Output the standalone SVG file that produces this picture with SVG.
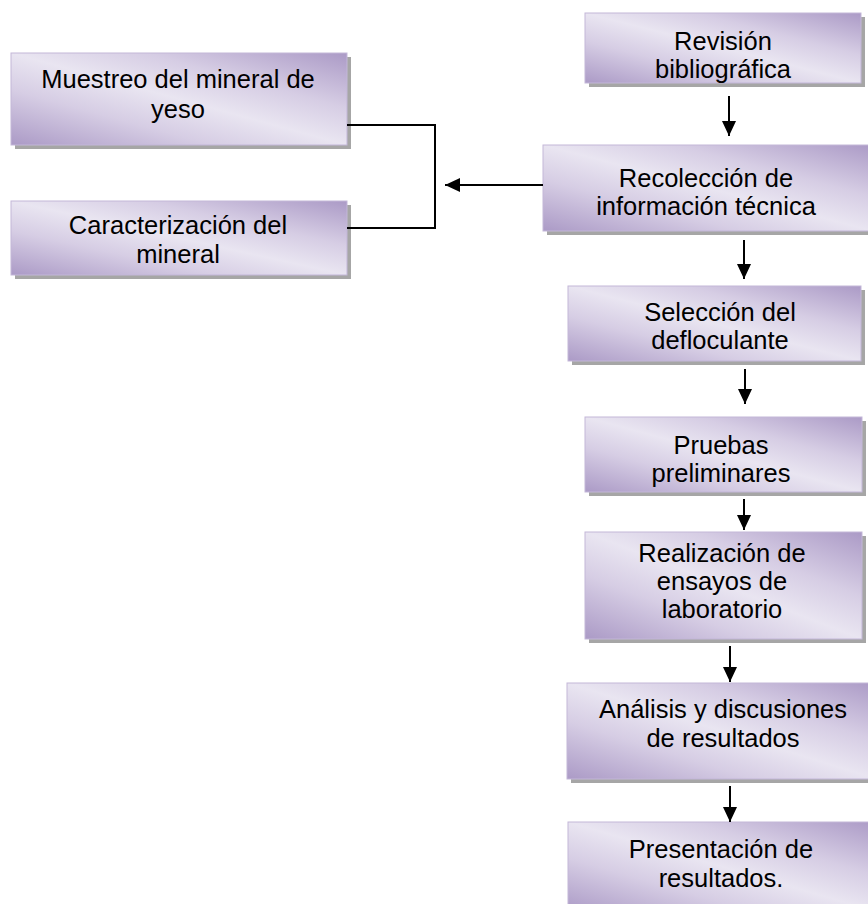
<svg xmlns="http://www.w3.org/2000/svg" width="868" height="904" viewBox="0 0 868 904">
<defs>
<linearGradient id="g" x1="1" y1="0" x2="0" y2="1">
<stop offset="0" stop-color="#ab9ac6"/>
<stop offset="0.3" stop-color="#d6cde4"/>
<stop offset="0.5" stop-color="#e9e5f1"/>
<stop offset="0.7" stop-color="#d6cde4"/>
<stop offset="1" stop-color="#ab9ac6"/>
</linearGradient>
<marker id="ah" viewBox="0 0 15 14" refX="15" refY="7" markerWidth="15" markerHeight="14" markerUnits="userSpaceOnUse" orient="auto">
<path d="M0,0 L15,7 L0,14 Z" fill="#000"/>
</marker>
<clipPath id="c1"><rect x="585" y="13" width="276" height="70"/></clipPath>
<clipPath id="c2"><rect x="585" y="417" width="277" height="75"/></clipPath>
</defs>
<style>
.sh{fill:#a6a6a6}
.bx{fill:url(#g);stroke:#c3b7d8;stroke-width:1}
text{font-family:"Liberation Sans",Arial,sans-serif;font-size:25.5px;fill:#000;text-anchor:middle}
.ln{fill:none;stroke:#000;stroke-width:2}
</style>
<rect width="868" height="904" fill="#fff"/>
<g id="muestreo">
<rect class="sh" x="15" y="57" width="336" height="92"/>
<rect class="bx" x="11" y="53" width="336" height="92"/>
<text x="178" y="88">Muestreo del mineral de</text>
<text x="178" y="118">yeso</text>
</g>
<g id="caracterizacion">
<rect class="sh" x="15" y="205" width="336" height="74"/>
<rect class="bx" x="11" y="201" width="336" height="74"/>
<text x="178" y="234">Caracterización del</text>
<text x="178" y="263">mineral</text>
</g>
<g id="revision">
<rect class="sh" x="589" y="17" width="276" height="70"/>
<rect class="bx" x="585" y="13" width="276" height="70"/>
<g clip-path="url(#c1)">
<text x="723" y="50">Revisión</text>
<text x="723" y="78">bibliográfica</text>
</g>
</g>
<g id="recoleccion">
<rect class="sh" x="547" y="149" width="330" height="86"/>
<rect class="bx" x="543" y="145" width="330" height="86"/>
<text x="706" y="187">Recolección de</text>
<text x="706" y="215">información técnica</text>
</g>
<g id="seleccion">
<rect class="sh" x="572" y="290" width="293" height="75"/>
<rect class="bx" x="568" y="286" width="293" height="75"/>
<text x="720" y="321">Selección del</text>
<text x="720" y="349">defloculante</text>
</g>
<g id="pruebas">
<rect class="sh" x="589" y="421" width="277" height="75"/>
<rect class="bx" x="585" y="417" width="277" height="75"/>
<g clip-path="url(#c2)">
<text x="721" y="454">Pruebas</text>
<text x="721" y="482">preliminares</text>
</g>
</g>
<g id="realizacion">
<rect class="sh" x="589" y="536" width="277" height="107"/>
<rect class="bx" x="585" y="532" width="277" height="107"/>
<text x="722" y="562">Realización de</text>
<text x="722" y="590">ensayos de</text>
<text x="722" y="618">laboratorio</text>
</g>
<g id="analisis">
<rect class="sh" x="571" y="687" width="310" height="96"/>
<rect class="bx" x="567" y="683" width="310" height="96"/>
<text x="723" y="718">Análisis y discusiones</text>
<text x="723" y="747">de resultados</text>
</g>
<g id="presentacion">
<rect class="sh" x="572" y="826" width="310" height="90"/>
<rect class="bx" x="568" y="822" width="310" height="90"/>
<text x="721" y="858">Presentación de</text>
<text x="721" y="887">resultados.</text>
</g>
<g id="connectors">
<polyline class="ln" points="347,125 435,125 435,228 347,228"/>
<line class="ln" x1="543" y1="185" x2="445" y2="185" marker-end="url(#ah)"/>
<line class="ln" x1="729" y1="96" x2="729" y2="136" marker-end="url(#ah)"/>
<line class="ln" x1="744" y1="240" x2="744" y2="279" marker-end="url(#ah)"/>
<line class="ln" x1="745" y1="369" x2="745" y2="404" marker-end="url(#ah)"/>
<line class="ln" x1="744" y1="499" x2="744" y2="530" marker-end="url(#ah)"/>
<line class="ln" x1="730" y1="646" x2="730" y2="682" marker-end="url(#ah)"/>
<line class="ln" x1="730" y1="786" x2="730" y2="822" marker-end="url(#ah)"/>
</g>
</svg>
